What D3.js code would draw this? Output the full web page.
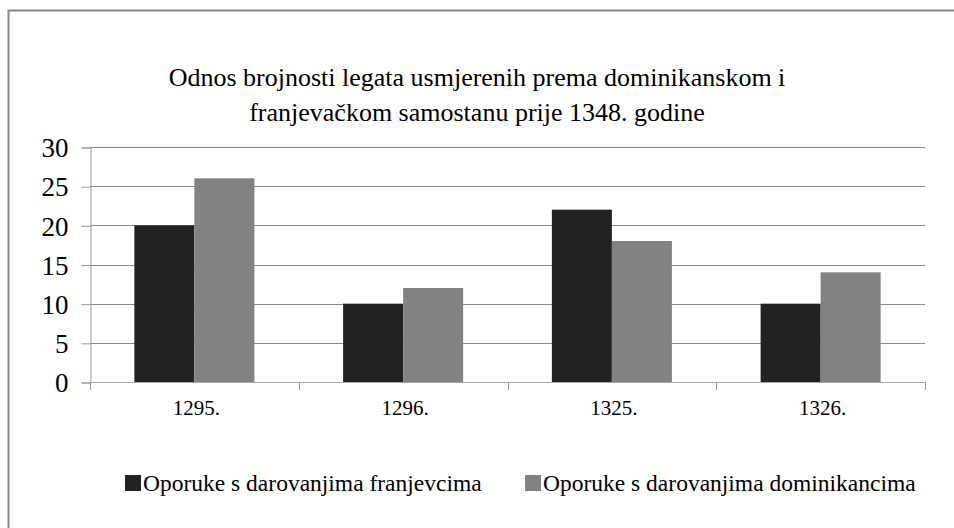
<!DOCTYPE html>
<html>
<head>
<meta charset="utf-8">
<script src="https://cdn.jsdelivr.net/npm/d3@7"></script>
<style>
  body { margin: 0; background: #fff; }
  svg text { font-family: "Liberation Serif", "DejaVu Serif", serif; fill: #000; }
</style>
</head>
<body>
<div id="chart"></div>
<script>
/* Data */
var years = ["1295.", "1296.", "1325.", "1326."];
var seriesNames = ["Oporuke s darovanjima franjevcima", "Oporuke s darovanjima dominikancima"];
var franjevci = [20, 10, 22, 10];
var dominikanci = [26, 12, 18, 14];
var yTicks = [0, 5, 10, 15, 20, 25, 30];
var titleLines = ["Odnos brojnosti legata usmjerenih prema dominikanskom i",
                  "franjevačkom samostanu prije 1348. godine"];

var serif = "'Liberation Serif', 'DejaVu Serif', serif";
var width = 954, height = 528;
var margin = {top: 147, right: 29, bottom: 146, left: 90};

var svg = d3.select("#chart").append("svg")
    .attr("width", width).attr("height", height)
    .attr("font-family", serif);

/* frame (only left and top edges show) */
svg.append("path")
    .attr("d", "M8.5,528V10.5H954")
    .attr("fill", "none")
    .attr("stroke", "#888")
    .attr("stroke-width", 2);

var x0 = d3.scaleBand()
    .domain(years)
    .range([margin.left, width - margin.right])
    .paddingInner(0.425)
    .paddingOuter(0.2125);

var x1 = d3.scaleBand()
    .domain([0, 1])
    .range([0, x0.bandwidth()]);

var y = d3.scaleLinear()
    .domain([0, 30])
    .range([height - margin.bottom, margin.top]);

var colors = ["#222222", "#828282"];

/* gridlines */
svg.append("g")
  .selectAll("line")
  .data(yTicks.slice(1))
  .enter().append("line")
    .attr("x1", margin.left)
    .attr("x2", width - margin.right)
    .attr("y1", function(d) { return Math.round(y(d)) + 0.5; })
    .attr("y2", function(d) { return Math.round(y(d)) + 0.5; })
    .attr("stroke", "#8a8a8a")
    .attr("stroke-width", 1);

/* y axis */
var yAxis = svg.append("g")
    .attr("transform", "translate(" + (margin.left + 0.5) + ",0.5)")
    .call(d3.axisLeft(y).tickValues(yTicks).tickSize(9).tickPadding(13));
yAxis.attr("font-family", serif);
yAxis.select(".domain").attr("stroke", "#999");
yAxis.selectAll(".tick line").attr("stroke", "#999");
yAxis.selectAll(".tick text")
    .attr("font-size", 27)
    .attr("font-family", serif)
    .attr("dy", "0.34em")
    .attr("fill", "#000");

/* bars */
var series = [franjevci, dominikanci];
series.forEach(function(vals, si) {
  svg.append("g")
    .selectAll("rect")
    .data(vals)
    .enter().append("rect")
      .attr("x", function(d, i) { return x0(years[i]) + x1(si); })
      .attr("y", function(d) { return y(d); })
      .attr("width", x1.bandwidth())
      .attr("height", function(d) { return y(0) - y(d); })
      .attr("fill", colors[si]);
});

/* x axis: baseline and ticks between categories */
var xg = svg.append("g");
xg.append("line")
    .attr("x1", margin.left).attr("x2", width - margin.right)
    .attr("y1", Math.round(y(0)) + 0.5).attr("y2", Math.round(y(0)) + 0.5)
    .attr("stroke", "#aaa");
var step = x0.step();
xg.selectAll("line.tk")
  .data(d3.range(years.length + 1))
  .enter().append("line")
    .attr("class", "tk")
    .attr("x1", function(i) { return Math.round(margin.left + i * step) + 0.5; })
    .attr("x2", function(i) { return Math.round(margin.left + i * step) + 0.5; })
    .attr("y1", y(0))
    .attr("y2", y(0) + 8)
    .attr("stroke", "#999");
xg.selectAll("text")
  .data(years)
  .enter().append("text")
    .attr("x", function(d) { return x0(d) + x0.bandwidth() / 2 + 2; })
    .attr("y", y(0) + 33)
    .attr("text-anchor", "middle")
    .attr("font-family", serif)
    .attr("font-size", 21)
    .text(function(d) { return d; });

/* title */
svg.append("g").selectAll("text")
  .data(titleLines)
  .enter().append("text")
    .attr("x", 477)
    .attr("y", function(d, i) { return 86 + i * 35; })
    .attr("text-anchor", "middle")
    .attr("font-family", serif)
    .attr("font-size", 26)
    .text(function(d) { return d; });

/* legend */
var legendX = [125, 525];
var legend = svg.append("g");
seriesNames.forEach(function(name, i) {
  legend.append("rect")
      .attr("x", legendX[i]).attr("y", 475)
      .attr("width", 16).attr("height", 16)
      .attr("fill", colors[i]);
  legend.append("text")
      .attr("x", legendX[i] + 18)
      .attr("y", 491)
      .attr("font-family", serif)
      .attr("font-size", 23.5)
      .text(name);
});
</script>
</body>
</html>
